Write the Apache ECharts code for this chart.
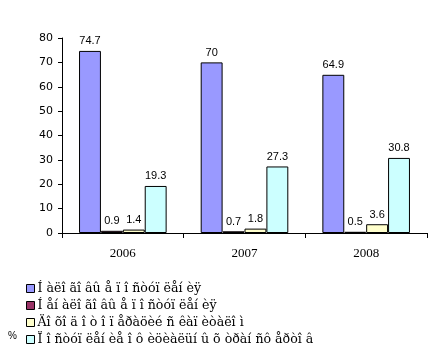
<!DOCTYPE html>
<html><head><meta charset="utf-8">
<script src="https://cdn.jsdelivr.net/npm/echarts@6/dist/echarts.min.js"></script>
<style>html,body{margin:0;padding:0;background:#fff}#c{width:448px;height:359px}</style>
</head><body><div id="c"></div>
<script>
const categories = ['2006', '2007', '2008'];
const seriesNames = [
  'Í àëî ãî âû å ï î ñòóï ëåí èÿ',
  'Í åí àëî ãî âû å ï î ñòóï ëåí èÿ',
  'Äî õî ä î ò î ï åðàöèé ñ êàï èòàëî ì',
  'Ï î ñòóï ëåí èå î ô èöèàëüí û õ òðàí ñô åðòî â'
];
const taxRevenue = [74.7, 70, 64.9];
const nonTaxRevenue = [0.9, 0.7, 0.5];
const capitalIncome = [1.4, 1.8, 3.6];
const transfers = [19.3, 27.3, 30.8];
const yTicks = [0, 10, 20, 30, 40, 50, 60, 70, 80];
const colors = ['#9999FF', '#993366', '#FFFFCC', '#CCFFFF'];
const values = [taxRevenue, nonTaxRevenue, capitalIncome, transfers];

const chart = echarts.init(document.getElementById('c'));
chart.setOption({
  animation: false,
  grid: {left: 62, right: 21, top: 38, bottom: 126},
  legend: {
    orient: 'vertical', left: 26, top: 282, height: 90, width: 420,
    itemWidth: 8, itemHeight: 8, itemGap: 4, padding: 0,
    icon: 'rect',
    itemStyle: {borderColor: '#000', borderWidth: 1},
    textStyle: {fontFamily: 'DejaVu Serif', fontSize: 12.6, color: '#000', padding: [0,0,0,-2]},
    data: seriesNames
  },
  graphic: [{type: 'text', left: 8, top: 331, style: {text: '%', font: '10px "Liberation Sans"', fill: '#000'}}],
  xAxis: {
    type: 'category', data: categories,
    axisLine: {lineStyle: {color: '#000', width: 1}},
    axisTick: {show: true, length: 5, lineStyle: {color: '#000'}},
    axisLabel: {fontFamily: 'Liberation Serif', fontSize: 13, color: '#000', margin: 14}
  },
  yAxis: {
    type: 'value', min: yTicks[0], max: yTicks[yTicks.length - 1], interval: 10,
    axisLine: {show: true, lineStyle: {color: '#000', width: 1}},
    axisTick: {show: true, length: 4, lineStyle: {color: '#000'}},
    splitLine: {show: false},
    axisLabel: {fontFamily: 'DejaVu Sans', fontSize: 11, color: '#000', margin: 9}
  },
  series: seriesNames.map((n, i) => ({
    name: n, type: 'bar', data: values[i],
    barGap: '0%', barCategoryGap: '28%',
    itemStyle: {color: colors[i], borderColor: '#000', borderWidth: 1},
    label: {show: true, position: 'top', distance: 4, fontFamily: 'Liberation Sans', fontSize: 11, color: '#000'}
  }))
});
</script></body></html>
